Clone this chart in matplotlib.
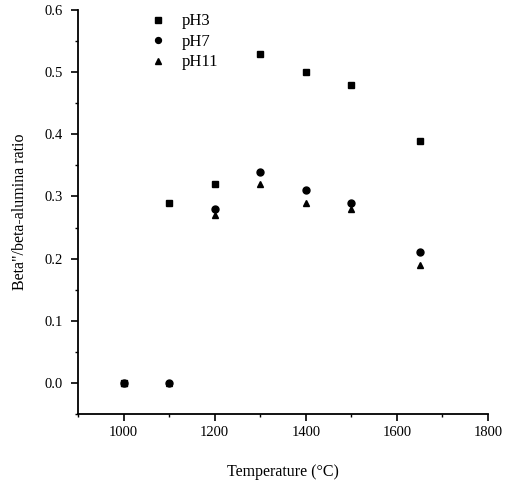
import matplotlib
matplotlib.use("Agg")
import matplotlib.pyplot as plt
from matplotlib.ticker import MultipleLocator, FormatStrFormatter

plt.rcParams['font.family'] = ['Liberation Serif', 'DejaVu Serif']

temperature = [1000, 1100, 1200, 1300, 1400, 1500, 1650]
ph3 = [0.00, 0.29, 0.32, 0.53, 0.50, 0.48, 0.39]
ph7 = [0.00, 0.00, 0.28, 0.34, 0.31, 0.29, 0.21]
ph11 = [0.00, 0.00, 0.27, 0.32, 0.29, 0.28, 0.19]

fig = plt.figure(figsize=(5.15, 4.84), dpi=100)
ax = fig.add_axes([0.1515, 0.1446, 0.7961, 0.8347])

ax.plot(temperature, ph3, linestyle='none', marker='s', ms=4.5, color='black', label='pH3')
ax.plot(temperature, ph7, linestyle='none', marker='o', ms=5, color='black', label='pH7')
ax.plot(temperature, ph11, linestyle='none', marker='^', ms=5, color='black', label='pH11')

ax.set_xlim(900, 1800)
ax.set_ylim(-0.05, 0.6)
ax.xaxis.set_major_locator(MultipleLocator(200))
ax.xaxis.set_minor_locator(MultipleLocator(100))
ax.yaxis.set_major_locator(MultipleLocator(0.1))
ax.yaxis.set_minor_locator(MultipleLocator(0.05))
ax.yaxis.set_major_formatter(FormatStrFormatter('%.1f'))
ax.set_xticks([1000, 1200, 1400, 1600, 1800])

for s in ['top', 'right']:
    ax.spines[s].set_visible(False)
for s in ['left', 'bottom']:
    ax.spines[s].set_linewidth(1.3)
ax.tick_params(axis='both', which='major', direction='out', length=5, width=1.2, labelsize=10.5)
ax.tick_params(axis='y', which='major', pad=6)
ax.tick_params(axis='both', which='minor', direction='out', length=2.5, width=1.0)

ax.set_xlabel('Temperature (°C)', fontsize=11.5, labelpad=18)
ax.set_ylabel('Beta"/beta-alumina ratio', fontsize=11.5, labelpad=12)

ax.legend(loc='upper left', bbox_to_anchor=(0.158, 1.008), frameon=False, fontsize=12,
          handlelength=1.0, handletextpad=0.95, labelspacing=0.27, borderaxespad=0,
          markerscale=0.85)

fig.savefig('out.png', dpi=100)
